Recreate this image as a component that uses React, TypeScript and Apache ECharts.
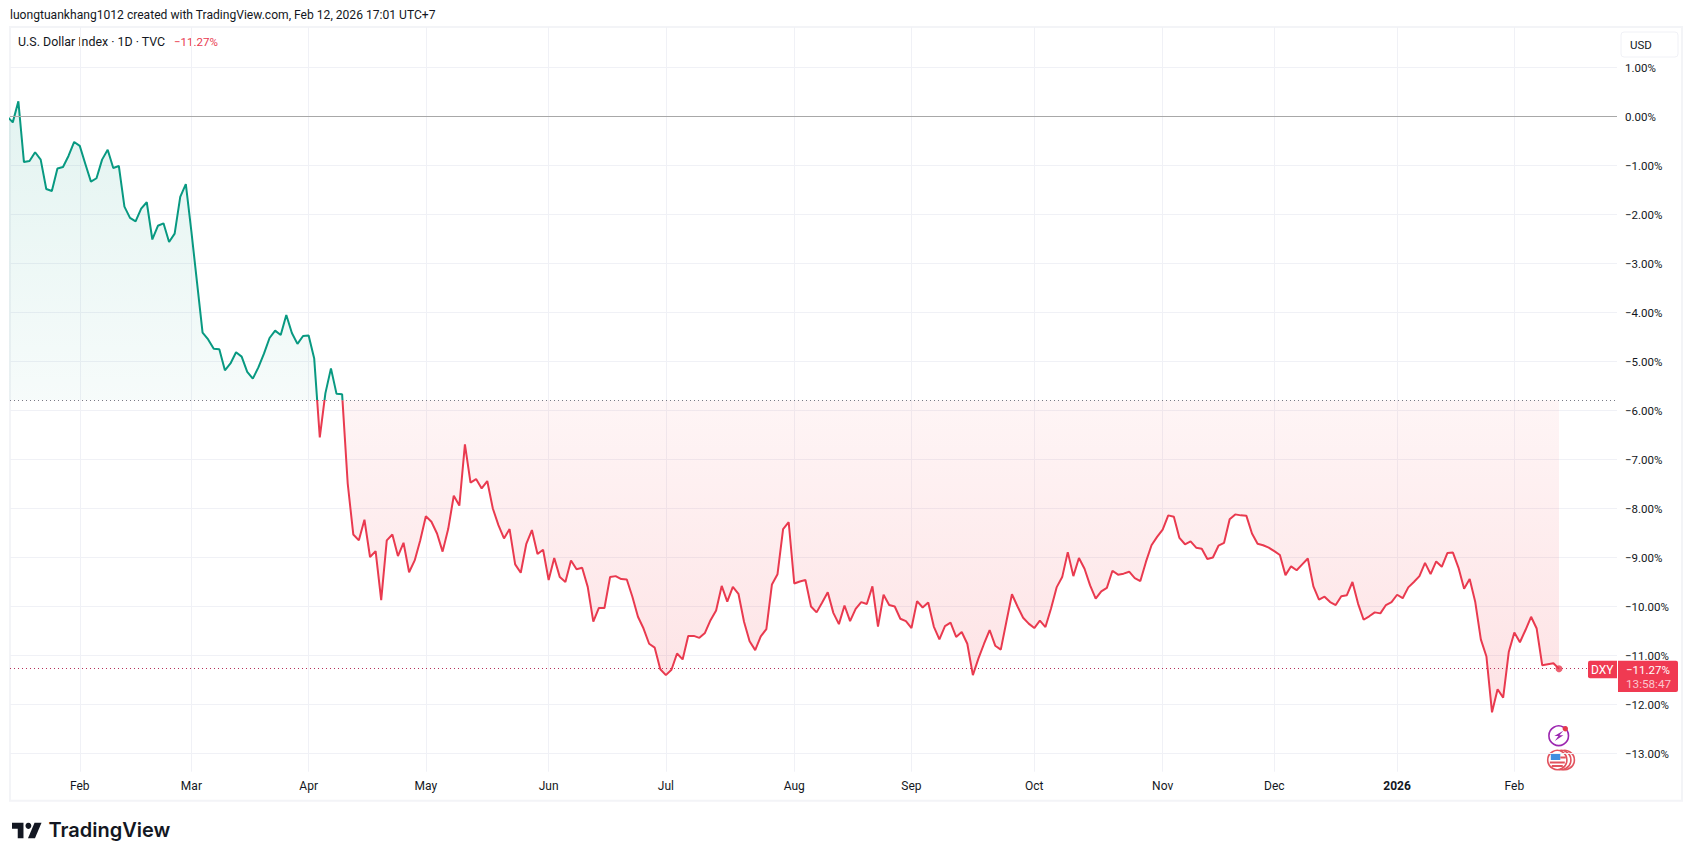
import * as echarts from "echarts";
import { useEffect, useRef } from "react";

const WIDTH = 1693;
const HEIGHT = 861;

// plot pane in page pixels
const PANE_LEFT = 10;
const PANE_RIGHT = 1617;
const PANE_TOP = 27;
const PANE_BOTTOM = 771.7;
const ZERO_Y = 116.5;
const PX_PER_PCT = 49;
const FIRST_BAR_X = 7.2;
const PX_PER_BAR = 5.582;

const FONT = "Roboto, sans-serif";
const TEXT = "#131722";
const GREEN = "#089981";
const RED = "#E93A4F";
const TAG_RED = "#F03A52";
const GRID = "#f0f1f6";

// daily change since the first bar, percent
const changePct = [
  0, -0.12, 0.31, -0.93, -0.91, -0.73, -0.88, -1.48, -1.52, -1.06,
  -1.03, -0.8, -0.52, -0.6, -0.97, -1.33, -1.26, -0.88, -0.68, -1.05,
  -1.01, -1.84, -2.07, -2.14, -1.88, -1.75, -2.51, -2.23, -2.18, -2.56,
  -2.39, -1.64, -1.38, -2.35, -3.38, -4.41, -4.55, -4.74, -4.75, -5.18,
  -5.04, -4.81, -4.9, -5.21, -5.35, -5.12, -4.84, -4.52, -4.37, -4.46,
  -4.05, -4.42, -4.64, -4.48, -4.47, -4.94, -6.55, -5.65, -5.14, -5.66,
  -5.67, -7.49, -8.53, -8.65, -8.23, -8.99, -8.87, -9.87, -8.65, -8.53,
  -8.97, -8.7, -9.3, -9.06, -8.65, -8.16, -8.27, -8.51, -8.88, -8.42,
  -7.74, -7.94, -6.69, -7.47, -7.4, -7.59, -7.44, -8.0, -8.34, -8.61,
  -8.42, -9.14, -9.31, -8.72, -8.44, -8.93, -8.84, -9.46, -9.01, -9.4,
  -9.5, -9.06, -9.24, -9.21, -9.6, -10.31, -10.03, -10.03, -9.4, -9.38,
  -9.44, -9.45, -9.8, -10.21, -10.45, -10.76, -10.84, -11.28, -11.4, -11.29,
  -10.96, -11.08, -10.6, -10.6, -10.64, -10.54, -10.28, -10.08, -9.58, -9.9,
  -9.6, -9.74, -10.31, -10.71, -10.89, -10.61, -10.46, -9.55, -9.34, -8.42,
  -8.28, -9.53, -9.49, -9.46, -10.0, -10.12, -9.92, -9.71, -10.13, -10.36,
  -9.98, -10.3, -10.05, -9.91, -9.95, -9.59, -10.41, -9.76, -9.97, -10.0,
  -10.25, -10.3, -10.44, -9.89, -10.02, -9.92, -10.41, -10.67, -10.4, -10.33,
  -10.62, -10.52, -10.76, -11.4, -11.06, -10.76, -10.48, -10.8, -10.88, -10.31,
  -9.75, -10.0, -10.23, -10.35, -10.44, -10.29, -10.42, -10.04, -9.61, -9.4,
  -8.89, -9.38, -9.01, -9.23, -9.57, -9.84, -9.69, -9.62, -9.27, -9.35,
  -9.33, -9.29, -9.42, -9.48, -9.09, -8.75, -8.58, -8.43, -8.14, -8.17,
  -8.6, -8.73, -8.67, -8.8, -8.82, -9.03, -9.0, -8.76, -8.7, -8.22,
  -8.12, -8.14, -8.15, -8.51, -8.72, -8.75, -8.8, -8.87, -8.95, -9.36,
  -9.18, -9.26, -9.14, -9.02, -9.59, -9.86, -9.8, -9.91, -9.97, -9.79,
  -9.77, -9.5, -9.94, -10.27, -10.2, -10.12, -10.14, -9.97, -9.91, -9.76,
  -9.83, -9.61, -9.5, -9.38, -9.11, -9.34, -9.08, -9.19, -8.91, -8.9,
  -9.21, -9.64, -9.44, -9.91, -10.67, -11.02, -12.16, -11.69, -11.86, -10.93,
  -10.53, -10.73, -10.48, -10.21, -10.45, -11.2, -11.18, -11.16, -11.27,
];

const monthBars = [13, 33, 54, 75, 97, 118, 141, 162, 184, 207, 227, 249, 270];
const monthLabels = ["Feb", "Mar", "Apr", "May", "Jun", "Jul", "Aug", "Sep", "Oct", "Nov", "Dec", "2026", "Feb"];
const pctTicks = [1, 0, -1, -2, -3, -4, -5, -6, -7, -8, -9, -10, -11, -12, -13];

const BASELINE = -5.79;
const LAST = -11.27;

const fmtPct = (v: number): string =>
  `${v < 0 ? "\u2212" : ""}${Math.abs(v).toFixed(2)}%`;

function label(text: string, x: number, y: number, fill: string, size = 12, extra = {}) {
  return {
    type: "text",
    x,
    y,
    silent: true,
    style: {
      text,
      fill,
      font: `${size}px ${FONT}`,
      textAlign: "left",
      textVerticalAlign: "middle",
      ...extra,
    },
  };
}

function buildGraphics() {
  const cx = 1557.3;
  const cy = 760;
  const coinRed = "#e2535e";
  return [
    {
      type: "rect",
      silent: true,
      z: -1,
      shape: { x: 10, y: 27, width: 1672, height: 773.7 },
      style: { fill: "none", stroke: "#f3f4f7", lineWidth: 2 },
    },
    label("luongtuankhang1012 created with TradingView.com, Feb 12, 2026 17:01 UTC+7", 10, 14.7, TEXT, 12.1),
    label("U.S. Dollar Index · 1D · TVC", 18, 41.7, TEXT, 12.4),
    label(fmtPct(LAST), 174, 41.7, RED, 11.5),

    // currency button
    {
      type: "rect",
      silent: true,
      shape: { x: 1621, y: 32, width: 57, height: 25, r: 3 },
      style: { fill: "#fff", stroke: GRID, lineWidth: 1 },
    },
    label("USD", 1630, 45, TEXT, 11.5),

    // last price tags
    {
      type: "rect",
      silent: true,
      shape: { x: 1588, y: 660.7, width: 29, height: 17.5, r: [2, 0, 0, 2] },
      style: { fill: TAG_RED },
    },
    label("DXY", 1591, 669.7, "#fff"),
    {
      type: "rect",
      silent: true,
      shape: { x: 1618, y: 660.7, width: 60, height: 31.3, r: [0, 2, 2, 0] },
      style: { fill: TAG_RED },
    },
    label(fmtPct(LAST), 1626, 670, "#fff", 11.5),
    label("13:58:47", 1626, 683.5, "rgba(255,255,255,0.72)", 11.7),

    // event badge
    {
      type: "group",
      silent: true,
      children: [
        { type: "circle", shape: { cx: 1558.7, cy: 735.7, r: 9.8 }, style: { fill: "#fff", stroke: "#9c27b0", lineWidth: 1.6 } },
        {
          type: "polygon",
          shape: { points: [[1563.3, 730.7], [1554.3, 736], [1558.4, 736], [1554.8, 741], [1563.4, 735.2], [1559.4, 735.2]] },
          style: { fill: "#9c27b0" },
        },
        { type: "circle", shape: { cx: 1565.3, cy: 728.7, r: 2.7 }, style: { fill: "#E5384C" } },
      ],
    },

    // US dollar coins
    {
      type: "group",
      silent: true,
      children: [
        { type: "circle", shape: { cx: cx + 7.5, cy, r: 9.6 }, style: { fill: "#fff", stroke: coinRed, lineWidth: 1.6 } },
        { type: "circle", shape: { cx: cx + 4, cy, r: 9.6 }, style: { fill: "#fff", stroke: coinRed, lineWidth: 1.6 } },
        { type: "circle", shape: { cx, cy, r: 9.6 }, style: { fill: "#fff", stroke: coinRed, lineWidth: 1.6 } },
        { type: "rect", shape: { x: cx - 6.5, y: cy - 6.5, width: 9.5, height: 6.5 }, style: { fill: "#3f8ee0" } },
        { type: "rect", shape: { x: cx + 3, y: cy - 3.5, width: 5.5, height: 2 }, style: { fill: coinRed } },
        { type: "rect", shape: { x: cx - 7.5, y: cy + 1.5, width: 15, height: 2 }, style: { fill: coinRed } },
        { type: "rect", shape: { x: cx - 5.5, y: cy + 5, width: 11, height: 2 }, style: { fill: coinRed } },
      ],
    },

    // logo
    {
      type: "group",
      silent: true,
      x: 12,
      y: 822.7,
      scaleX: 0.82,
      scaleY: 0.87,
      children: [
        { type: "polygon", shape: { points: [[0, 0], [14, 0], [14, 18], [7, 18], [7, 7], [0, 7]] }, style: { fill: "#131722" } },
        { type: "circle", shape: { cx: 20, cy: 3.6, r: 3.6 }, style: { fill: "#131722" } },
        { type: "polygon", shape: { points: [[27.5, 0], [36, 0], [28, 18], [19.5, 18]] }, style: { fill: "#131722" } },
      ],
    },
    label("TradingView", 48.5, 829.8, "#131722", 20, { font: `600 20px Inter, ${FONT}` }),
  ];
}

export default function App(): React.ReactElement {
  const containerRef = useRef<HTMLDivElement | null>(null);

  useEffect(() => {
    const target = containerRef.current;
    if (target === null) return;

    const chart = echarts.init(target, null, { renderer: "svg" });
    const xMin = (PANE_LEFT - FIRST_BAR_X) / PX_PER_BAR;
    const xMax = (PANE_RIGHT - FIRST_BAR_X) / PX_PER_BAR;
    const tagBar = (1588 - FIRST_BAR_X) / PX_PER_BAR;
    const baseY = ZERO_Y - BASELINE * PX_PER_PCT;
    const fillTop = ZERO_Y;
    const fillBottom = ZERO_Y + 12.5 * PX_PER_PCT;
    const baseStop = (baseY - fillTop) / (fillBottom - fillTop);

    chart.setOption({
      animation: false,
      backgroundColor: "#ffffff",
      textStyle: { fontFamily: FONT },
      grid: {
        left: PANE_LEFT,
        top: PANE_TOP,
        width: PANE_RIGHT - PANE_LEFT,
        height: PANE_BOTTOM - PANE_TOP,
      },
      xAxis: {
        type: "value",
        min: xMin,
        max: xMax,
        axisLine: { show: false },
        axisTick: { show: false, customValues: monthBars },
        splitLine: { show: true, lineStyle: { color: GRID, width: 1 } },
        axisLabel: {
          customValues: monthBars,
          color: TEXT,
          fontSize: 12,
          fontFamily: FONT,
          margin: 8.5,
          formatter: (v: number) => {
            const text = monthLabels[monthBars.indexOf(v)];
            return text === "2026" ? `{b|${text}}` : text;
          },
          rich: { b: { fontWeight: "bold", fontSize: 12, fontFamily: FONT, color: TEXT } },
        },
      },
      yAxis: {
        type: "value",
        position: "right",
        min: (ZERO_Y - PANE_BOTTOM) / PX_PER_PCT,
        max: (ZERO_Y - PANE_TOP) / PX_PER_PCT,
        axisLine: { show: false },
        axisTick: { show: false, customValues: pctTicks },
        splitLine: { show: true, lineStyle: { color: GRID, width: 1 } },
        axisLabel: {
          customValues: pctTicks,
          color: TEXT,
          fontSize: 11.5,
          fontFamily: FONT,
          margin: 8,
          formatter: fmtPct,
        },
      },
      series: [
        {
          type: "line",
          data: changePct.map((v, i) => [i, v]),
          showSymbol: false,
          symbol: "none",
          lineStyle: {
            width: 2,
            color: new echarts.graphic.LinearGradient(
              0,
              fillTop,
              0,
              fillBottom,
              [
                { offset: 0, color: GREEN },
                { offset: baseStop, color: GREEN },
                { offset: baseStop, color: RED },
                { offset: 1, color: RED },
              ],
              true,
            ),
          },
          areaStyle: {
            origin: BASELINE,
            opacity: 1,
            color: new echarts.graphic.LinearGradient(
              0,
              fillTop,
              0,
              fillBottom,
              [
                { offset: 0, color: "rgba(8,153,129,0.11)" },
                { offset: baseStop, color: "rgba(8,153,129,0.035)" },
                { offset: baseStop, color: "rgba(242,54,69,0.05)" },
                { offset: 1, color: "rgba(242,54,69,0.15)" },
              ],
              true,
            ),
          },
          markLine: {
            silent: true,
            symbol: "none",
            label: { show: false },
            data: [
              [
                { coord: [xMin, 0], lineStyle: { color: "#a8a8a8", width: 1, type: "solid" } },
                { coord: [xMax, 0] },
              ],
              [
                { coord: [xMin, BASELINE], lineStyle: { color: "#787b86", width: 1, type: [1, 3] } },
                { coord: [xMax, BASELINE] },
              ],
              [
                { coord: [xMin, LAST], lineStyle: { color: "#b5305a", width: 1, type: [1, 3] } },
                { coord: [tagBar, LAST] },
              ],
            ],
          },
        },
        {
          type: "scatter",
          data: [[changePct.length - 1, LAST]],
          symbolSize: 7,
          itemStyle: { color: RED },
          z: 5,
        },
      ],
      graphic: { elements: buildGraphics() },
    });

    return () => {
      chart.dispose();
    };
  }, []);

  return (
    <div
      ref={containerRef}
      style={{ position: "absolute", left: 0, top: 0, width: WIDTH, height: HEIGHT }}
    />
  );
}
